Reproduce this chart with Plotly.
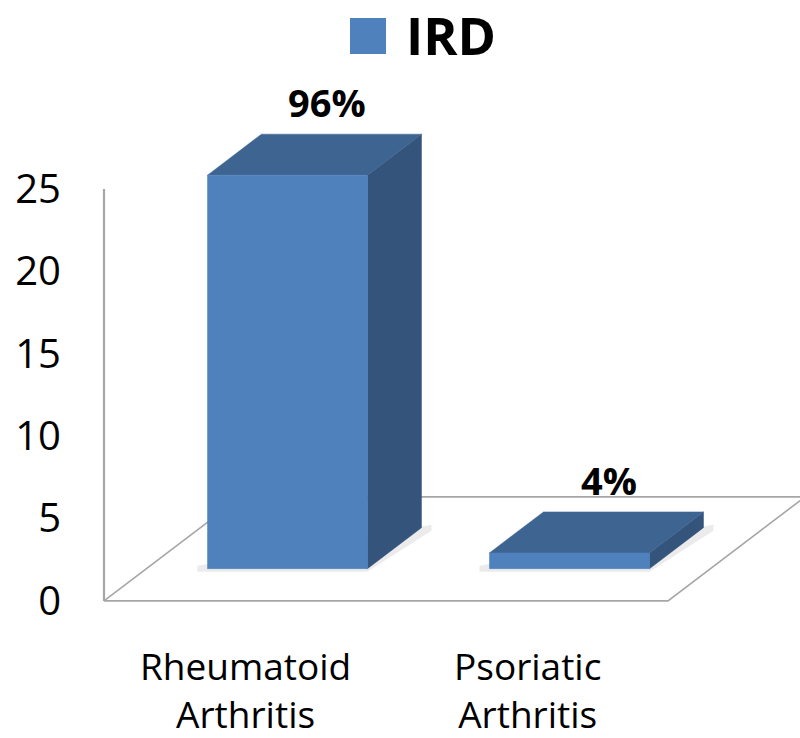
import plotly.graph_objects as go

# ---------------- data ----------------
categories = ["Rheumatoid Arthritis", "Psoriatic Arthritis"]
values = [25, 1]
percent_labels = ["96%", "4%"]
y_ticks = [0, 5, 10, 15, 20, 25]
series_name = "IRD"

# ---------------- layout / style constants ----------------
W, H = 800, 738
ML, MR, MT, MB = 102, 0, 90, 96
PX_X = 282.0      # pixels per category slot
PX_Y = 16.48      # pixels per value unit
plot_w = W - ML - MR
plot_h = H - MT - MB
x_min = -0.5 - 2 / PX_X
x_range = [x_min, x_min + plot_w / PX_X]
y_top = 31.0
y_range = [y_top - plot_h / PX_Y, y_top]

# oblique 3-D projection parameters
FLOOR_DX = 137 / PX_X      # x shift for full depth
FLOOR_DY = 104 / PX_Y      # y shift for full depth
BAR_Z0 = 0.31              # depth of bar front face (fraction of floor depth)
BAR_DX = 54 / PX_X         # bar depth in x
BAR_DY = 41 / PX_Y         # bar depth in y
BAR_HALF = 80 / PX_X       # half bar width
PERSP = 0.955              # perspective height scale at bar depth

FRONT = "#4F81BD"
TOP = "#3E6492"
SIDE = "#34547C"
GRID = "#A6A6A6"
FONT = "Open Sans"

fig = go.Figure()

# floor (parallelogram outline)
n = len(categories)
fx = [-0.5, n - 0.5, n - 0.5 + FLOOR_DX, -0.5 + FLOOR_DX, -0.5]
fy = [0, 0, FLOOR_DY, FLOOR_DY, 0]
fig.add_trace(go.Scatter(x=fx, y=fy, mode="lines",
                         line=dict(color=GRID, width=1.6),
                         hoverinfo="skip", showlegend=False))

# vertical value axis line
fig.add_trace(go.Scatter(x=[-0.5, -0.5], y=[0, max(y_ticks)], mode="lines",
                         line=dict(color=GRID, width=2.2),
                         hoverinfo="skip", showlegend=False))

# bars: shadow, side, top, front faces
for i, v in enumerate(values):
    xc = i + BAR_Z0 * FLOOR_DX
    b = BAR_Z0 * FLOOR_DY
    t = b + v * PERSP
    xl, xr_ = xc - BAR_HALF, xc + BAR_HALF
    # soft floor shadow
    sdx, sdy = 10 / PX_X, 3 / PX_Y
    fig.add_trace(go.Scatter(
        x=[xl - sdx, xr_, xr_ + BAR_DX + sdx, xr_ + BAR_DX + sdx, xl - sdx],
        y=[b - sdy, b - sdy, b + BAR_DY - sdy, b + BAR_DY + sdy, b + sdy],
        mode="lines", fill="toself", fillcolor="rgba(0,0,0,0.08)",
        line=dict(width=0), hoverinfo="skip", showlegend=False))
    # side face
    fig.add_trace(go.Scatter(
        x=[xr_, xr_ + BAR_DX, xr_ + BAR_DX, xr_, xr_],
        y=[b, b + BAR_DY, t + BAR_DY, t, b],
        mode="lines", fill="toself", fillcolor=SIDE,
        line=dict(color=SIDE, width=0.5), hoverinfo="skip", showlegend=False))
    # top face
    fig.add_trace(go.Scatter(
        x=[xl, xr_, xr_ + BAR_DX, xl + BAR_DX, xl],
        y=[t, t, t + BAR_DY, t + BAR_DY, t],
        mode="lines", fill="toself", fillcolor=TOP,
        line=dict(color=TOP, width=0.5), hoverinfo="skip", showlegend=False))
    # front face
    fig.add_trace(go.Scatter(
        x=[xl, xr_, xr_, xl, xl],
        y=[b, b, t, t, b],
        mode="lines", fill="toself", fillcolor=FRONT,
        line=dict(color=FRONT, width=0.5), hoverinfo="skip", showlegend=False,
        name=series_name))
    # data label
    fig.add_annotation(x=xc + BAR_DX / 2, y=t + BAR_DY, xref="x", yref="y",
                       text=f"<b>{percent_labels[i]}</b>", showarrow=False,
                       xanchor="center", yanchor="bottom", xshift=13, yshift=4,
                       font=dict(family=FONT, size=38, color="black"))

# category labels (two lines each)
for i, c in enumerate(categories):
    fig.add_annotation(x=i, y=(H - MB - 689) / plot_h,
                       xref="x", yref="paper", text=c.replace(" ", "<br>"),
                       showarrow=False, xanchor="center", yanchor="middle",
                       borderpad=0,
                       font=dict(family=FONT, size=37, color="black"))

# legend (key square + text)
def px_to_paper_x(px):
    return (px - ML) / plot_w

def px_to_paper_y(py):
    return (H - MB - py) / plot_h

fig.add_shape(type="rect", xref="paper", yref="paper",
              x0=px_to_paper_x(350), x1=px_to_paper_x(386),
              y0=px_to_paper_y(54), y1=px_to_paper_y(18),
              fillcolor=FRONT, line=dict(width=0))
fig.add_annotation(x=px_to_paper_x(404), y=px_to_paper_y(35), xref="paper", yref="paper",
                   text=f"<b>{series_name}</b>", showarrow=False,
                   xanchor="left", yanchor="middle",
                   font=dict(family=FONT, size=52, color="black"))

fig.update_layout(
    width=W, height=H,
    margin=dict(l=ML, r=MR, t=MT, b=MB),
    paper_bgcolor="white", plot_bgcolor="white",
    showlegend=False,
    xaxis=dict(range=x_range, visible=False, fixedrange=True),
    yaxis=dict(range=y_range, tickvals=y_ticks, ticktext=[str(t) for t in y_ticks],
               showgrid=False, zeroline=False, showline=False, ticks="",
               ticklabelstandoff=40,
               tickfont=dict(family=FONT, size=40, color="black"), fixedrange=True),
)

fig.write_html("out.html", config={"displayModeBar": False},
               post_script="document.body.style.margin='0';document.body.style.overflow='hidden';")
